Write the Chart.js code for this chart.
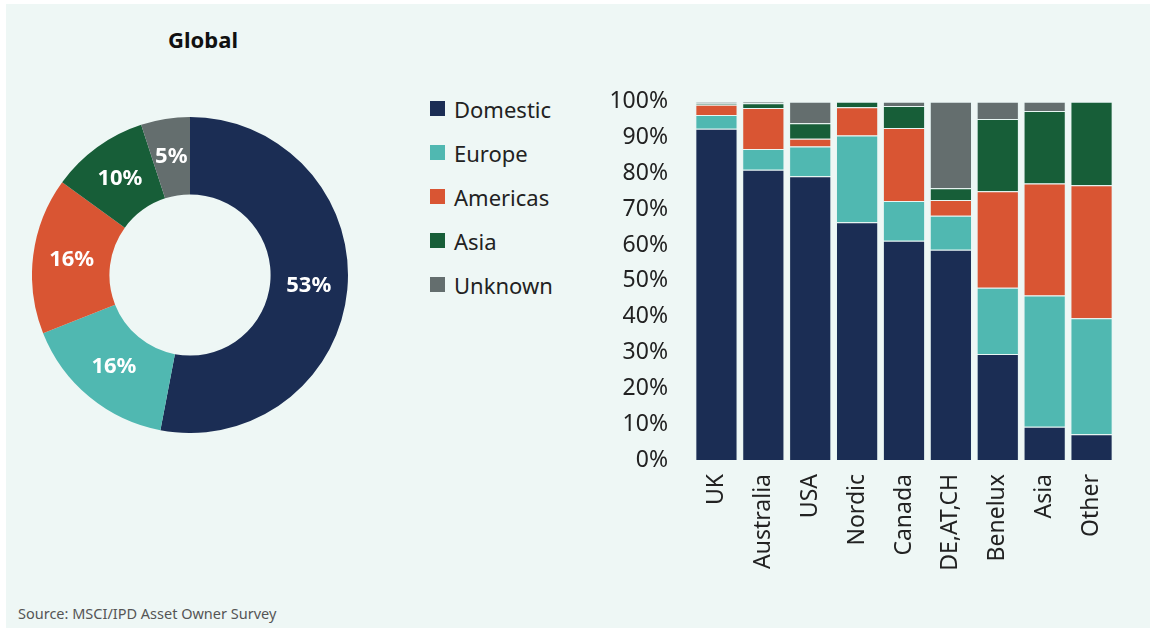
<!DOCTYPE html>
<html>
<head>
<meta charset="utf-8">
<script src="https://cdn.jsdelivr.net/npm/chart.js@4"></script>
<style>
body{margin:0;background:#fff;font-family:"Noto Sans",sans-serif;}
#panel{position:absolute;left:6px;top:4px;width:1144px;height:624px;background:#eef7f5;}
#title{position:absolute;left:133px;top:24px;width:140px;text-align:center;font-weight:bold;font-size:22px;color:#111;}
#donutBox{position:absolute;left:32px;top:117px;width:316px;height:316px;}
#barBox{position:absolute;left:590px;top:71px;width:540px;height:534px;}
#legend{position:absolute;left:430px;top:94px;}
.item{height:44px;font-size:22px;color:#222;display:flex;align-items:flex-start;}
.sw{width:15px;height:15px;margin:7px 9px 0 0;}
#source{position:absolute;left:18px;top:603px;font-size:14.5px;color:#555;}
</style>
</head>
<body>
<div id="panel"></div>
<div id="title">Global</div>
<div id="donutBox"><canvas id="donut"></canvas></div>
<div id="legend"></div>
<div id="barBox"><canvas id="bars"></canvas></div>
<div id="source">Source: MSCI/IPD Asset Owner Survey</div>
<script>
var seriesNames=["Domestic","Europe","Americas","Asia","Unknown"];
var colors=["#1b2d54","#50b8b1","#d95533","#175e38","#646e6e"];
var globalShare=[53,16,16,10,5];
var countries=["UK","Australia","USA","Nordic","Canada","DE,AT,CH","Benelux","Asia","Other"];
var domestic=[92.5,81.0,79.2,66.4,61.2,58.7,29.6,9.3,7.2];
var europe=[3.8,5.8,8.3,24.2,11.1,9.5,18.5,36.6,32.4];
var americas=[2.9,11.5,2.2,7.9,20.4,4.4,26.9,31.3,37.1];
var asia=[0.3,1.3,4.3,1.5,6.1,3.3,20.2,20.2,23.3];
var unknown=[0.5,0.4,6.0,0,1.2,24.1,4.8,2.6,0];
var yTicks=[0,10,20,30,40,50,60,70,80,90,100];

var font="'Noto Sans', sans-serif";

// legend
var lg=document.getElementById("legend");
for(var i=0;i<seriesNames.length;i++){
  var d=document.createElement("div");d.className="item";
  d.innerHTML='<span class="sw" style="background:'+colors[i]+'"></span>'+seriesNames[i];
  lg.appendChild(d);
}

var sliceLabels={
  id:"sliceLabels",
  afterDatasetsDraw:function(chart){
    var ctx=chart.ctx;
    var meta=chart.getDatasetMeta(0);
    ctx.save();
    ctx.fillStyle="#fff";
    ctx.font="bold 22px "+font;
    ctx.textAlign="center";ctx.textBaseline="middle";
    meta.data.forEach(function(arc,i){
      var p=arc.tooltipPosition();
      ctx.fillText(globalShare[i]+"%",p.x,p.y);
    });
    ctx.restore();
  }
};

new Chart("donut",{
  type:"doughnut",
  data:{labels:seriesNames,datasets:[{data:globalShare,backgroundColor:colors,borderWidth:0}]},
  options:{
    responsive:true,maintainAspectRatio:false,animation:false,
    cutout:"51%",
    plugins:{legend:{display:false},tooltip:{enabled:false}}
  },
  plugins:[sliceLabels]
});

var stack=[domestic,europe,americas,asia,unknown];
var ds=[];
for(var j=0;j<stack.length;j++){
  ds.push({label:seriesNames[j],data:stack[j],backgroundColor:colors[j],
    borderColor:"rgba(230,245,242,0.7)",borderWidth:1,
    barPercentage:0.9,categoryPercentage:1});
}

new Chart("bars",{
  type:"bar",
  data:{labels:countries,datasets:ds},
  options:{
    responsive:true,maintainAspectRatio:false,animation:false,
    layout:{padding:{top:18,right:15}},
    plugins:{legend:{display:false},tooltip:{enabled:false}},
    scales:{
      x:{stacked:true,grid:{display:false},border:{display:false},
        ticks:{maxRotation:90,minRotation:90,color:"#222",font:{family:font,size:23},padding:6},
        afterFit:function(s){s.height=145;}},
      y:{stacked:true,min:0,max:100,grid:{display:false},border:{display:false},
        afterBuildTicks:function(s){s.ticks=yTicks.map(function(v){return {value:v};});},
        ticks:{color:"#222",font:{family:font,size:23},padding:17,callback:function(v){return v+"%";}},
        afterFit:function(s){s.width=103;}}
    }
  }
});
</script>
</body>
</html>
